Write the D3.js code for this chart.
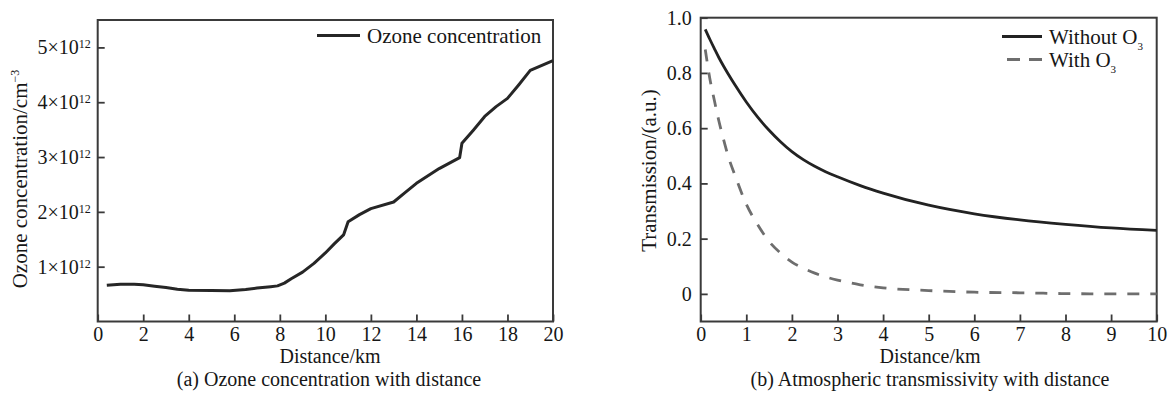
<!DOCTYPE html>
<html>
<head>
<meta charset="utf-8">
<script src="https://cdn.jsdelivr.net/npm/d3@7"></script>
<style>
  body { margin: 0; background: #fff; }
  text { font-family: "Liberation Serif", "Times New Roman", serif; fill: #161616; }
</style>
</head>
<body>
<svg id="chart" width="1173" height="394"></svg>
<script>
// ---- (a) ozone concentration, values in 1e12 cm^-3 ----
const ozoneDist = [0.4, 1.0, 1.6, 2.0, 2.5, 3.0, 3.5, 4.0, 5.0, 5.8, 6.5, 7.0, 7.6, 7.9, 8.2, 8.5, 9.0, 9.5,
  10.0, 10.4, 10.8, 11.0, 11.5, 12.0, 13.0, 13.5, 14.0, 15.0, 15.9, 16.0, 16.5, 17.0, 17.5, 18.0, 18.5, 19.0, 20.0];
const ozoneConc = [0.66, 0.68, 0.68, 0.67, 0.645, 0.62, 0.59, 0.57, 0.565, 0.56, 0.585, 0.61, 0.635, 0.65, 0.70, 0.78, 0.90, 1.06,
  1.25, 1.42, 1.58, 1.82, 1.95, 2.06, 2.18, 2.35, 2.52, 2.79, 2.99, 3.25, 3.49, 3.74, 3.92, 4.07, 4.32, 4.58, 4.76];
const ozoneTicksX = [0, 2, 4, 6, 8, 10, 12, 14, 16, 18, 20];
const ozoneTicksY = [1, 2, 3, 4, 5];

// ---- (b) atmospheric transmissivity ----
const transDist = [0.1, 0.2, 0.3, 0.4, 0.5, 0.6, 0.75, 1.0, 1.25, 1.5, 1.75, 2.0, 2.25, 2.5, 2.75, 3.0, 3.5, 4.0, 5.0, 6.0, 7.0, 8.0, 9.0, 10.0];
const transWithout = [0.958, 0.922, 0.888, 0.855, 0.825, 0.797, 0.757, 0.695, 0.64, 0.5925, 0.551, 0.515, 0.486, 0.462, 0.4415, 0.424,
  0.392, 0.365, 0.321, 0.29, 0.268, 0.252, 0.239, 0.23];
const transWith = [0.885, 0.78, 0.70, 0.625, 0.56, 0.50, 0.43, 0.325, 0.25, 0.19, 0.148, 0.115, 0.093, 0.075, 0.061, 0.05,
  0.033, 0.022, 0.012, 0.006, 0.004, 0.001, 0.0, 0.0];
const transTicksX = [0, 1, 2, 3, 4, 5, 6, 7, 8, 9, 10];
const transTicksY = [0, 0.2, 0.4, 0.6, 0.8, 1.0];

const svg = d3.select("#chart");
const frameColor = "#3a3a3a";
const tickPx = 20;
const titlePx = 21;

function drawFrame(x, y) {
  svg.append("rect")
    .attr("x", x.range()[0]).attr("y", y.range()[1])
    .attr("width", x.range()[1] - x.range()[0])
    .attr("height", y.range()[0] - y.range()[1])
    .attr("fill", "none").attr("stroke", frameColor).attr("stroke-width", 2);
}

function styleAxis(g) {
  g.select(".domain").remove();
  g.selectAll(".tick line").attr("stroke", frameColor).attr("stroke-width", 1.8);
  g.selectAll(".tick text").style("font-size", tickPx + "px").attr("fill", "#161616");
}

// ================= panel (a) =================
const xA = d3.scaleLinear().domain([0, 20]).range([97.7, 553]);
const yA = d3.scaleLinear().domain([0, 5.5]).range([321.5, 20]);

svg.append("g")
  .attr("transform", `translate(0,${yA.range()[0]})`)
  .call(d3.axisBottom(xA).tickValues(ozoneTicksX).tickSizeInner(-7).tickSizeOuter(0).tickPadding(5))
  .call(styleAxis);

svg.append("g")
  .attr("transform", `translate(${xA.range()[0]},0)`)
  .call(d3.axisLeft(yA).tickValues(ozoneTicksY).tickSizeInner(-7).tickSizeOuter(0).tickPadding(7))
  .call(styleAxis)
  .call(g => g.selectAll(".tick text").each(function (d) {
    const t = d3.select(this);
    t.text(null);
    t.append("tspan").text(d + "×10");
    t.append("tspan").attr("dy", -6).style("font-size", "12px").text("12");
  }));

drawFrame(xA, yA);

svg.append("path")
  .datum(ozoneDist.map((d, i) => [d, ozoneConc[i]]))
  .attr("fill", "none")
  .attr("stroke", "#262626")
  .attr("stroke-width", 3)
  .attr("stroke-linejoin", "round")
  .attr("d", d3.line().x(d => xA(d[0])).y(d => yA(d[1])));

// legend (a)
svg.append("line").attr("x1", 317).attr("x2", 360).attr("y1", 35.5).attr("y2", 35.5)
  .attr("stroke", "#262626").attr("stroke-width", 3);
svg.append("text").attr("x", 367).attr("y", 43).style("font-size", titlePx + "px").text("Ozone concentration");

// axis titles (a)
const yTitleA = svg.append("text")
  .attr("transform", "translate(27,179) rotate(-90)")
  .attr("text-anchor", "middle")
  .style("font-size", titlePx + "px");
yTitleA.append("tspan").text("Ozone concentration/cm");
yTitleA.append("tspan").attr("dy", -8).style("font-size", "12px").text("−3");

svg.append("text").attr("x", 330).attr("y", 363).attr("text-anchor", "middle")
  .style("font-size", tickPx + "px").text("Distance/km");
svg.append("text").attr("x", 329).attr("y", 386).attr("text-anchor", "middle")
  .style("font-size", tickPx + "px").text("(a) Ozone concentration with distance");

// ================= panel (b) =================
const xB = d3.scaleLinear().domain([0, 10]).range([700.7, 1156.7]);
const yB = d3.scaleLinear().domain([-0.1, 1.0]).range([321.5, 17.7]);

svg.append("g")
  .attr("transform", `translate(0,${yB.range()[0]})`)
  .call(d3.axisBottom(xB).tickValues(transTicksX).tickSizeInner(-7).tickSizeOuter(0).tickPadding(5))
  .call(styleAxis);

svg.append("g")
  .attr("transform", `translate(${xB.range()[0]},0)`)
  .call(d3.axisLeft(yB).tickValues(transTicksY).tickSizeInner(-7).tickSizeOuter(0).tickPadding(9)
    .tickFormat(d => d === 0 ? "0" : d3.format(".1f")(d)))
  .call(styleAxis);

drawFrame(xB, yB);

const lineB = d3.line().curve(d3.curveMonotoneX).x(d => xB(d[0])).y(d => yB(d[1]));

svg.append("path")
  .datum(transDist.map((d, i) => [d, transWith[i]]))
  .attr("fill", "none")
  .attr("stroke", "#6e6e6e")
  .attr("stroke-width", 2.8)
  .attr("stroke-dasharray", "12,11")
  .attr("d", lineB);

svg.append("path")
  .datum(transDist.map((d, i) => [d, transWithout[i]]))
  .attr("fill", "none")
  .attr("stroke", "#222")
  .attr("stroke-width", 2.8)
  .attr("d", lineB);

// legend (b)
const legendB = [
  { label: "Without O", color: "#222", dash: null, x1: 1002, y: 36.5 },
  { label: "With O", color: "#6e6e6e", dash: "13,9", x1: 1007, y: 59.5 }
];
legendB.forEach(l => {
  svg.append("line").attr("x1", l.x1).attr("x2", 1042).attr("y1", l.y).attr("y2", l.y)
    .attr("stroke", l.color).attr("stroke-width", 2.8).attr("stroke-dasharray", l.dash);
  const t = svg.append("text").attr("x", 1049).attr("y", l.y + 7).style("font-size", titlePx + "px");
  t.append("tspan").text(l.label);
  t.append("tspan").attr("dy", 6).style("font-size", "11px").text("3");
});

// axis titles (b)
svg.append("text")
  .attr("transform", "translate(656,170.5) rotate(-90)")
  .attr("text-anchor", "middle")
  .style("font-size", titlePx + "px")
  .text("Transmission/(a.u.)");

svg.append("text").attr("x", 930).attr("y", 363).attr("text-anchor", "middle")
  .style("font-size", tickPx + "px").text("Distance/km");
svg.append("text").attr("x", 930).attr("y", 386).attr("text-anchor", "middle")
  .style("font-size", tickPx + "px").text("(b) Atmospheric transmissivity with distance");
</script>
</body>
</html>
